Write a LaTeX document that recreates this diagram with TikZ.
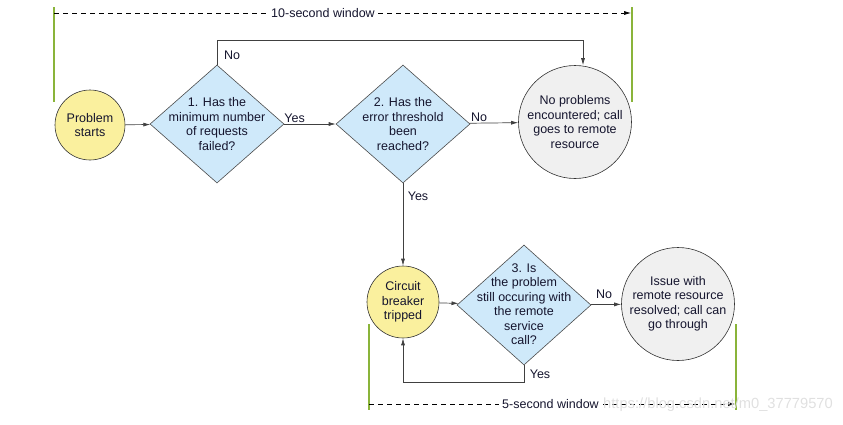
\documentclass[tikz,border=0pt]{standalone}
\usepackage{fontspec}
\setmainfont{Liberation Sans}
\usetikzlibrary{shapes.geometric,arrows.meta}
\definecolor{yel}{HTML}{FAF09E}
\definecolor{blu}{HTML}{CFE9FA}
\definecolor{gry}{HTML}{F0F0F0}
\definecolor{grn}{HTML}{8AB43A}
\definecolor{txt}{HTML}{15152E}
\begin{document}
\begin{tikzpicture}[x=1pt,y=-1pt,
  every node/.style={text=txt,font=\fontsize{12.5}{14.5}\selectfont},
  startnode/.style={circle,draw=black!80,line width=0.6pt,fill=yel,minimum size=70pt,inner sep=0pt,align=center},
  endnode/.style={circle,draw=black!80,line width=0.6pt,fill=gry,minimum size=113pt,inner sep=0pt,align=center},
  decision/.style={diamond,draw=black!70,line width=0.6pt,fill=blu,minimum width=134pt,minimum height=118pt,inner sep=0pt},
  qtext/.style={align=center,inner sep=0pt},
  conn/.style={draw=black!75,line width=0.7pt,-{Latex[length=7pt,width=4pt]}},
  window/.style={draw=black,line width=0.6pt,dash pattern=on 5pt off 4pt,-{Latex[length=7pt,width=4pt]}},
  greenline/.style={draw=grn,line width=2pt},
  lbl/.style={inner sep=1pt}]
\useasboundingbox (0,0) rectangle (843,424);
% nodes
\node[startnode] (ps) at (90,125) {Problem\\starts};
\node[decision] (d1) at (217,124) {};
\node[qtext] (t1) at (217,124) {1. Has the\\minimum number\\of requests\\failed?};
\node[decision] (d2) at (403,124) {};
\node[qtext] (t2) at (403,124) {2. Has the\\error threshold\\been\\reached?};
\node[endnode] (np) at (575,122) {No problems\\encountered; call\\goes to remote\\resource};
\node[startnode,minimum size=72pt] (cb) at (403,302) {Circuit\\breaker\\tripped};
\node[decision,minimum height=120pt] (d3) at (524,305) {};
\node[qtext] (t3) at (524,304) {3. Is\\the problem\\still occuring with\\the remote\\service\\call?};
\node[endnode] (ir) at (678,304) {Issue with\\remote resource\\resolved; call can\\go through};
% connectors
\draw[conn] (ps) -- (d1);
\draw[conn] (d1) -- node[lbl,above,pos=0.2] {Yes} (d2);
\draw[conn] (d2) -- node[lbl,above,pos=0.2] {No} (np);
\coordinate (n1) at (217,40);
\coordinate (n2) at (583,40);
\draw[conn] (d1.north) -- (n1) -- (n2) -- (n2 |- np.north);
\node[lbl] (nolbl) at (232,55) {No};
\draw[conn] (d2.south) -- (cb.north);
\node[lbl] (yeslbl) at (418,196) {Yes};
\draw[conn] (cb) -- (d3);
\draw[conn] (d3) -- (ir);
\node[lbl] (nolbl3) at (604,294) {No};
\coordinate (y1) at (524,382);
\coordinate (y2) at (403,382);
\draw[conn] (d3.south) -- (y1) -- (y2) -- (cb.south);
\node[lbl] (yeslbl3) at (540,374) {Yes};
% windows
\draw[greenline] (54,7) -- (54,102);
\draw[greenline] (632,7) -- (632,102);
\coordinate (w1a) at (54,13);
\coordinate (w1b) at (631,13);
\draw[window] (w1a) -- (w1b);
\node[fill=white,inner xsep=3pt,inner ysep=1pt] (w1) at (323,13) {10-second window};
\draw[greenline] (369,324) -- (369,410);
\draw[greenline] (736,324) -- (736,410);
\coordinate (w2a) at (369,404);
\coordinate (w2b) at (735,404);
\draw[window] (w2a) -- (w2b);
\node[fill=white,inner xsep=3pt,inner ysep=1pt,anchor=west] (w2) at (499,404) {5-second window};
\node[anchor=west,inner sep=0pt,text=black!12,font=\fontsize{14.7}{16}\selectfont] (wm) at (603,405) {https://blog.csdn.net/m0\_37779570};
\end{tikzpicture}
\end{document}
